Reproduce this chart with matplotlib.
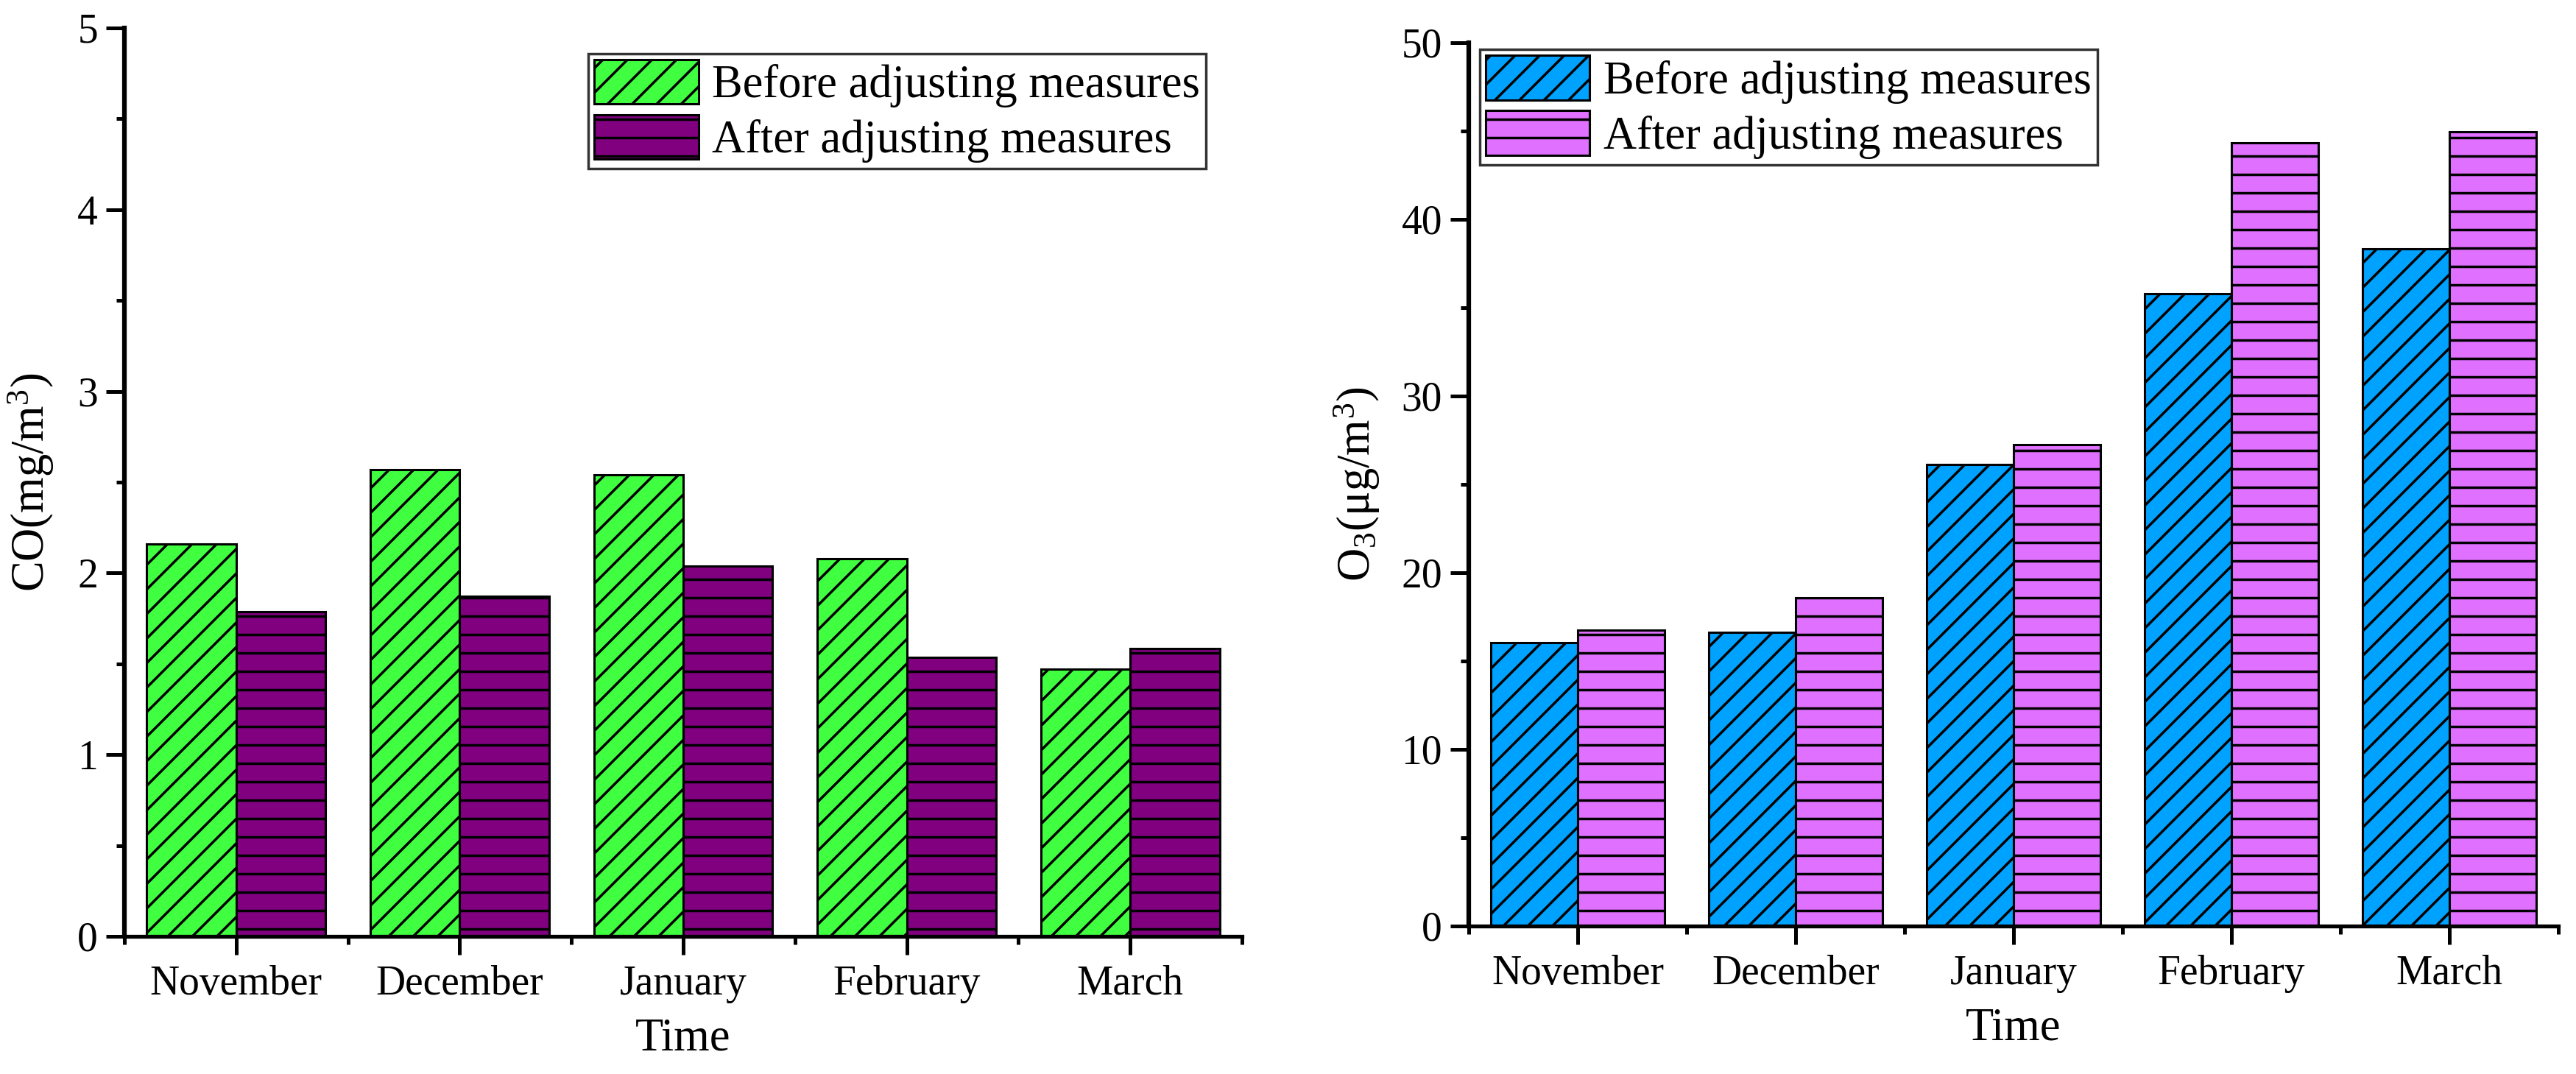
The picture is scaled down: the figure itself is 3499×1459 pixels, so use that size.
import numpy as np
import matplotlib
matplotlib.use("Agg")
import matplotlib.pyplot as plt
import matplotlib.hatch as mhatch
from matplotlib.ticker import MultipleLocator, FixedLocator

# ---- data ----
months = ["November", "December", "January", "February", "March"]
series_names = ["Before adjusting measures", "After adjusting measures"]
co_before = [2.16, 2.57, 2.54, 2.08, 1.47]
co_after = [1.785, 1.87, 2.04, 1.535, 1.585]
o3_before = [16.05, 16.63, 26.12, 35.81, 38.33]
o3_after = [16.74, 18.57, 27.25, 44.34, 44.96]


# horizontal hatch with wider line spacing (4 lines per inch)
class WideHorizontalHatch(mhatch.HorizontalHatch):
    def __init__(self, hatch, density):
        self.num_lines = int((hatch.count('-') + hatch.count('+')) * 4)
        self.num_vertices = self.num_lines * 2


mhatch._hatch_types[0] = WideHorizontalHatch

plt.rcParams['font.family'] = ['Liberation Serif', 'DejaVu Serif']
plt.rcParams['mathtext.fontset'] = 'custom'
plt.rcParams['mathtext.rm'] = 'Liberation Serif'
plt.rcParams['mathtext.it'] = 'Liberation Serif:italic'
plt.rcParams['hatch.linewidth'] = 2.5
plt.rcParams['hatch.color'] = 'black'

fig = plt.figure(figsize=(34.99, 14.59), dpi=100)
ax1 = fig.add_axes([169 / 3499, 1 - 1272 / 1459, 1518 / 3499, 1234 / 1459])
ax2 = fig.add_axes([1995 / 3499, 1 - 1258 / 1459, 1480 / 3499, 1200 / 1459])

TICK_FS = 40
LABEL_FS = 45
LEG_FS = 45


def draw(ax, before, after, c_before, c_after, ymax, ymajor, ylabel, leg_loc, leg_anchor, ylab_x):
    x = np.arange(1, len(months) + 1)
    w = 0.4
    ax.bar(x - w / 2, before, width=w, color=c_before, edgecolor='black',
           linewidth=2.2, hatch='/', label=series_names[0], zorder=2)
    ax.bar(x + w / 2, after, width=w, color=c_after, edgecolor='black',
           linewidth=2.2, hatch='-', label=series_names[1], zorder=2)
    ax.set_xlim(0.5, len(months) + 0.5)
    ax.set_ylim(0, ymax)
    for s in ['top', 'right']:
        ax.spines[s].set_visible(False)
    ax.spines['left'].set_linewidth(4.5)
    ax.spines['bottom'].set_linewidth(3.8)
    ax.xaxis.set_major_locator(FixedLocator(x))
    ax.xaxis.set_minor_locator(FixedLocator(np.arange(0.5, len(months) + 1, 1.0)))
    ax.set_xticklabels(months)
    ax.yaxis.set_major_locator(MultipleLocator(ymajor))
    ax.yaxis.set_minor_locator(MultipleLocator(ymajor / 2))
    ax.tick_params(axis='both', which='major', direction='out', length=18, width=3.6,
                   labelsize=TICK_FS)
    ax.tick_params(axis='both', which='minor', direction='out', length=8, width=3.6)
    ax.tick_params(axis='x', which='major', pad=10)
    ax.tick_params(axis='y', which='major', pad=8)
    ax.set_xlabel('Time', fontsize=LABEL_FS, labelpad=14)
    ax.set_ylabel(ylabel, fontsize=LABEL_FS)
    ax.yaxis.set_label_coords(ylab_x, 0.5)
    leg = ax.legend(loc=leg_loc, bbox_to_anchor=leg_anchor, borderaxespad=0,
                    fontsize=LEG_FS, frameon=True, fancybox=False, edgecolor='black',
                    handlelength=2.26, handleheight=1.12, labelspacing=0.15,
                    borderpad=0.13, handletextpad=0.3)
    leg.get_frame().set_linewidth(2.5)


draw(ax1, co_before, co_after, '#40FF40', '#800080', 5, 1,
     'CO(mg/m$^3$)', 'upper right', (0.968, 0.972), -0.061)
draw(ax2, o3_before, o3_after, '#00A2FF', '#E070FF', 50, 10,
     'O$_3$(μg/m$^3$)', 'upper left', (0.010, 0.9925), -0.08)

fig.savefig('out.png', dpi=100)
